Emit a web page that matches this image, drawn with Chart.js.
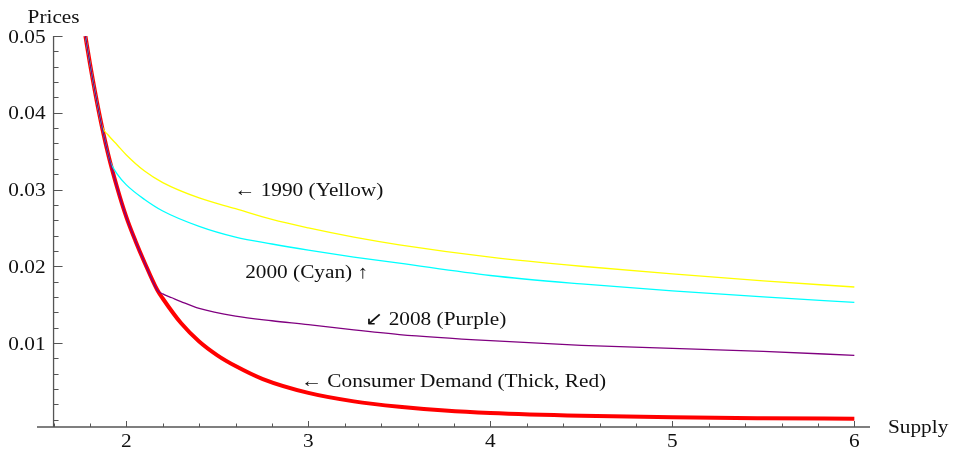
<!DOCTYPE html>
<html>
<head>
<meta charset="utf-8">
<script src="https://cdn.jsdelivr.net/npm/chart.js@4.4.1/dist/chart.umd.min.js"></script>
<style>
  body { margin: 0; background: #fff; }
  #wrap { position: relative; width: 954px; height: 449px; }
</style>
</head>
<body>
<div id="wrap"><canvas id="chart"></canvas></div>
<script>
// values
const supplyRed = [1.775, 1.8, 1.85, 1.9, 1.95, 2.0, 2.05, 2.1, 2.17, 2.2, 2.3, 2.4, 2.5, 2.6, 2.75, 3.0, 3.25, 3.5, 3.75, 4.0, 4.5, 5.0, 5.5, 6.0];
const priceRed = [0.0500, 0.0464, 0.0400, 0.0346, 0.0302, 0.0264, 0.0233, 0.0205, 0.0169, 0.0158, 0.0126, 0.0102, 0.0084, 0.0070, 0.0053, 0.0035, 0.0024, 0.0017, 0.0012, 0.00088, 0.00052, 0.00032, 0.00021, 0.00014];

const supplyYellow = [1.775, 1.8, 1.85, 1.865, 1.9, 1.95, 2.0, 2.1, 2.2, 2.4, 2.6, 2.8, 3.0, 3.25, 3.5, 4.0, 4.5, 5.0, 5.5, 6.0];
const priceYellow = [0.0500, 0.0464, 0.0400, 0.0383, 0.0371, 0.0358, 0.0345, 0.0324, 0.0309, 0.0289, 0.0275, 0.0261, 0.0250, 0.0238, 0.0228, 0.0212, 0.0200, 0.0190, 0.0181, 0.0173];

const supplyCyan = [1.775, 1.8, 1.85, 1.9, 1.91, 1.95, 2.0, 2.1, 2.2, 2.4, 2.6, 2.8, 3.0, 3.25, 3.5, 4.0, 4.5, 5.0, 5.5, 6.0];
const priceCyan = [0.0500, 0.0464, 0.0400, 0.0346, 0.0337, 0.0320, 0.0306, 0.0287, 0.0272, 0.0252, 0.0238, 0.0229, 0.0221, 0.0212, 0.0204, 0.0188, 0.0177, 0.0168, 0.0160, 0.0153];

const supplyPurple = [1.775, 1.8, 1.85, 1.9, 1.95, 2.0, 2.05, 2.1, 2.17, 2.2, 2.25, 2.3, 2.4, 2.6, 2.8, 3.0, 3.25, 3.5, 4.0, 4.5, 5.0, 5.5, 6.0];
const pricePurple = [0.0500, 0.0464, 0.0400, 0.0346, 0.0302, 0.0264, 0.0233, 0.0205, 0.0169, 0.0164, 0.0159, 0.0154, 0.0145, 0.0135, 0.0129, 0.0124, 0.0117, 0.0111, 0.0103, 0.0097, 0.0093, 0.0089, 0.0084];

const xTicks = [2, 3, 4, 5, 6];
const xTickLabels = ['2', '3', '4', '5', '6'];
const yTicks = [0.01, 0.02, 0.03, 0.04, 0.05];
const yTickLabels = ['0.01', '0.02', '0.03', '0.04', '0.05'];

const notes = ['\u2190 1990 (Yellow)', '2000 (Cyan) \u2191', '\u2199 2008 (Purple)', '\u2190 Consumer Demand (Thick, Red)'];

function pts(xs, ys) {
  return xs.map((x, i) => ({ x: x, y: ys[i] }));
}

const FONT = '18.5px "Liberation Serif", "Times New Roman", serif';
const STRETCH = 1.15;
const AXIS = '#555555';

function text(ctx, s, x, y, align) {
  ctx.save();
  ctx.translate(x, y);
  ctx.scale(STRETCH, 1);
  ctx.textAlign = align;
  ctx.textBaseline = 'alphabetic';
  ctx.fillText(s, 0, 0);
  ctx.restore();
}

const axesPlugin = {
  id: 'mmaAxes',
  afterDraw(chart) {
    const ctx = chart.ctx;
    const xs = chart.scales.x, ys = chart.scales.y;
    const ax = xs.getPixelForValue(1.6);
    const ay = chart.chartArea.bottom;
    const left = chart.chartArea.left, right = chart.chartArea.right;
    const top = ys.getPixelForValue(0.05);

    ctx.save();
    ctx.strokeStyle = AXIS;
    ctx.lineWidth = 1.3;
    ctx.beginPath();
    ctx.moveTo(left, ay); ctx.lineTo(right, ay);
    ctx.moveTo(ax, ay); ctx.lineTo(ax, top);
    ctx.stroke();

    ctx.lineWidth = 1;
    ctx.beginPath();
    // y ticks, every 0.002
    for (let i = 0; i <= 25; i++) {
      const v = i * 0.002;
      const py = Math.round(ys.getPixelForValue(v)) + 0.5;
      const len = (i % 5 === 0 && i > 0) ? 9 : 5;
      ctx.moveTo(ax, py); ctx.lineTo(ax + len, py);
    }
    // x ticks, every 0.2
    for (let i = 8; i <= 30; i++) {
      const v = i * 0.2;
      const px = Math.round(xs.getPixelForValue(v)) + 0.5;
      const len = (i % 5 === 0) ? 6 : 3.5;
      ctx.moveTo(px, ay); ctx.lineTo(px, ay - len);
    }
    ctx.stroke();

    ctx.fillStyle = '#111';
    ctx.font = FONT;
    yTicks.forEach((v, i) => {
      text(ctx, yTickLabels[i], ax - 8, ys.getPixelForValue(v) + 6.5, 'right');
    });
    xTicks.forEach((v, i) => {
      text(ctx, xTickLabels[i], xs.getPixelForValue(v), ay + 20, 'center');
    });

    text(ctx, 'Prices', ax, top - 13, 'center');
    text(ctx, 'Supply', right + 18, ay + 6, 'left');

    const anchors = [[2.592, 0.02915], [2.653, 0.01847], [3.311, 0.01235], [2.958, 0.00427]];
    notes.forEach((s, i) => {
      text(ctx, s, xs.getPixelForValue(anchors[i][0]), ys.getPixelForValue(anchors[i][1]), 'left');
    });
    ctx.restore();
  }
};

const line = { showLine: true, pointRadius: 0, fill: false, cubicInterpolationMode: 'monotone' };

new Chart(document.getElementById('chart'), {
  type: 'scatter',
  data: {
    datasets: [
      Object.assign({ label: 'Consumer Demand', data: pts(supplyRed, priceRed), borderColor: '#ff0000', borderWidth: 4, order: 4 }, line),
      Object.assign({ label: '1990', data: pts(supplyYellow, priceYellow), borderColor: '#ffff00', borderWidth: 1.3, order: 3 }, line),
      Object.assign({ label: '2000', data: pts(supplyCyan, priceCyan), borderColor: '#00ffff', borderWidth: 1.3, order: 2 }, line),
      Object.assign({ label: '2008', data: pts(supplyPurple, pricePurple), borderColor: '#800080', borderWidth: 1.3, order: 1 }, line)
    ]
  },
  options: {
    responsive: true,
    maintainAspectRatio: false,
    animation: false,
    layout: { padding: { left: 37, right: 84, top: 36, bottom: 22 } },
    plugins: { legend: { display: false }, tooltip: { enabled: false } },
    scales: {
      x: { type: 'linear', min: 1.509, max: 6.086, display: false },
      y: { type: 'linear', min: -0.00094, max: 0.05, display: false }
    }
  },
  plugins: [axesPlugin]
});
</script>
</body>
</html>
